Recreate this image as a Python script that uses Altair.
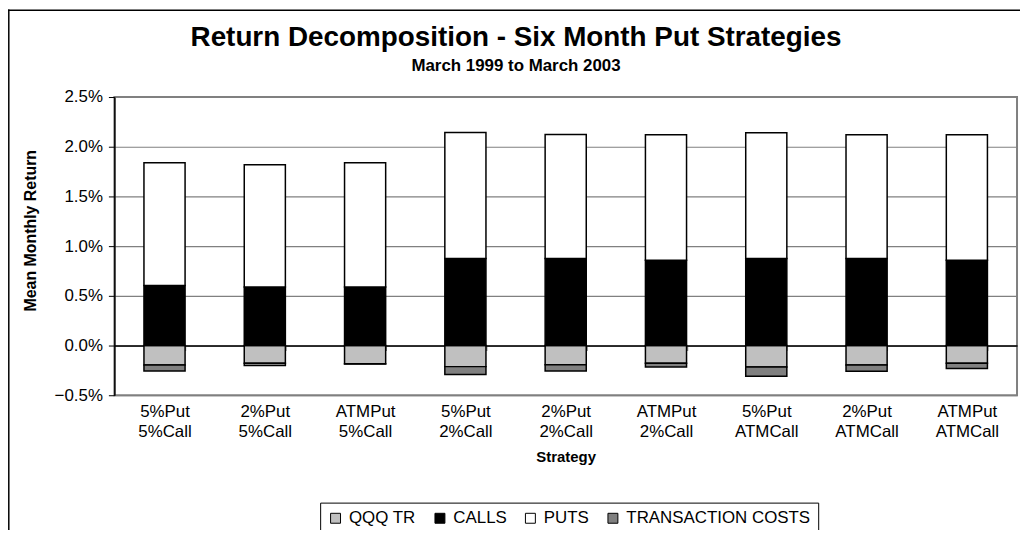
import altair as alt
import pandas as pd

strategies = ["5%Put|5%Call", "2%Put|5%Call", "ATMPut|5%Call",
              "5%Put|2%Call", "2%Put|2%Call", "ATMPut|2%Call",
              "5%Put|ATMCall", "2%Put|ATMCall", "ATMPut|ATMCall"]
series_names = ["QQQ TR", "CALLS", "PUTS", "TRANSACTION COSTS"]
series_colors = ["#c0c0c0", "#000000", "#ffffff", "#808080"]
stack_order = [0, 1, 2, 3]

qqq_tr = [-0.195, -0.178, -0.182, -0.212, -0.192, -0.178, -0.215, -0.195, -0.178]
calls = [0.605, 0.588, 0.588, 0.875, 0.875, 0.858, 0.875, 0.875, 0.858]
puts = [1.233, 1.230, 1.250, 1.267, 1.247, 1.262, 1.265, 1.245, 1.262]
trans_costs = [-0.060, -0.024, -0.004, -0.080, -0.063, -0.037, -0.093, -0.063, -0.054]

y_ticks = [-0.5, 0.0, 0.5, 1.0, 1.5, 2.0, 2.5]

rows = []
for s_name, vals, o in zip(series_names, [qqq_tr, calls, puts, trans_costs], stack_order):
    for strat, v in zip(strategies, vals):
        rows.append({"strategy": strat, "series": s_name, "value": v, "order": o})
df = pd.DataFrame(rows)

FONT = "Liberation Sans"

bars = alt.Chart(df).mark_bar(stroke="black", strokeWidth=1.5).encode(
    x=alt.X("strategy:N", sort=strategies,
            scale=alt.Scale(paddingInner=0.59, paddingOuter=0.295),
            axis=alt.Axis(title="Strategy", offset=-50, labelAngle=0,
                          labelExpr="split(datum.label, '|')",
                          labelPadding=53, labelLineHeight=21, labelFontSize=17,
                          labelColor="black", labelFont=FONT,
                          tickBand="extent", tickSize=5, tickColor="#808080", tickWidth=1.5,
                          domainColor="black", domainWidth=1.5,
                          titleFontSize=15, titleFontWeight="bold", titleColor="black",
                          titlePadding=10, grid=False)),
    y=alt.Y("value:Q", stack="zero",
            scale=alt.Scale(domain=[-0.5, 2.5], nice=False, zero=False),
            axis=alt.Axis(values=y_ticks, title="Mean Monthly Return",
                          labelExpr="format(datum.value, '.1f') + '%'",
                          labelFontSize=17, labelColor="black", labelPadding=6,
                          tickSize=6, tickColor="black", domainColor="black", domainWidth=1.5,
                          grid=True, gridColor="#808080", gridWidth=1.2,
                          titleFontSize=16, titleFontWeight="bold", titleColor="black",
                          titlePadding=16, titleY=134)),
    color=alt.Color("series:N",
                    scale=alt.Scale(domain=series_names, range=series_colors),
                    legend=alt.Legend(title=None, orient="none", legendX=207, legendY=408,
                                      direction="horizontal", strokeColor="black",
                                      fillColor="white", padding=7,
                                      symbolType="square", symbolSize=100,
                                      symbolStrokeColor="black", symbolStrokeWidth=1,
                                      labelFontSize=17, labelColor="black", labelOffset=5,
                                      labelLimit=400, columnPadding=15)),
    order=alt.Order("order:Q"),
)

frame_df = pd.DataFrame({"k": [0]})
frame_left = alt.Chart(frame_df).mark_rule(color="black", strokeWidth=1.5).encode(
    x=alt.value(-106.2), y=alt.value(-88), y2=alt.value(445))
frame_top = alt.Chart(frame_df).mark_rule(color="black", strokeWidth=1.5).encode(
    x=alt.value(-107), x2=alt.value(915), y=alt.value(-87.2))

chart = alt.layer(frame_left, frame_top, bars).properties(
    width=908, height=300,
    autosize=alt.AutoSizeParams(type="none"),
    padding={"left": 107, "top": 88, "right": 3, "bottom": 134},
    title=alt.TitleParams(text="Return Decomposition - Six Month Put Strategies",
                          subtitle="March 1999 to March 2003",
                          fontSize=28, fontWeight="bold", color="black",
                          subtitleFontSize=17, subtitleFontWeight="bold", subtitleColor="black",
                          subtitlePadding=7, anchor="middle", frame="bounds", offset=-66),
).configure(font=FONT, background="white").configure_view(stroke="#808080", strokeWidth=2)

chart.save("out.html", embed_options={"renderer": "svg", "actions": False})
